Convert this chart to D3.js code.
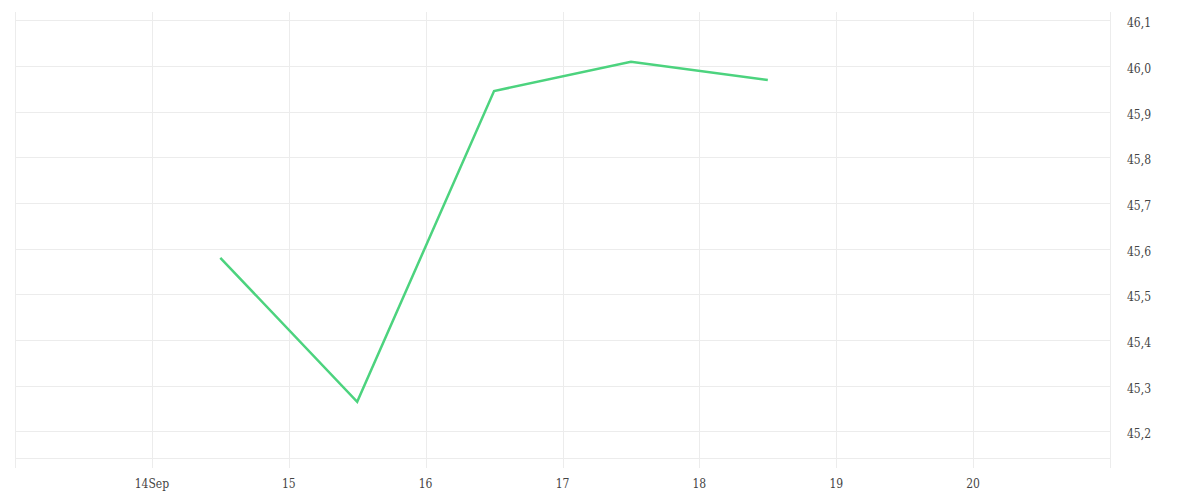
<!DOCTYPE html>
<html>
<head>
<meta charset="utf-8">
<script src="https://cdn.jsdelivr.net/npm/d3@7"></script>
<style>
  body { margin: 0; background: #fff; }
  svg text { font-family: "DejaVu Serif Condensed", "DejaVu Serif", serif; font-stretch: condensed; font-size: 12px; fill: #444; }
</style>
</head>
<body>
<svg id="chart" width="1200" height="500"></svg>
<script>
// daily closes, plotted at midday
const dates = ["2023-09-14T12:00", "2023-09-15T12:00", "2023-09-16T12:00", "2023-09-17T12:00", "2023-09-18T12:00"];
const values = [45.58, 45.265, 45.945, 46.009, 45.969];
const yTicks = [45.2, 45.3, 45.4, 45.5, 45.6, 45.7, 45.8, 45.9, 46.0, 46.1];
const xTicks = ["2023-09-14", "2023-09-15", "2023-09-16", "2023-09-17", "2023-09-18", "2023-09-19", "2023-09-20"];

(function () {
    const svg = d3.select("svg#chart");
    const left = 15, right = 1110, plotTop = 12, plotBottom = 458, tickEnd = 468;

    const parse = d3.timeParse("%Y-%m-%dT%H:%M");
    const parseDay = d3.timeParse("%Y-%m-%d");
    const data = dates.map((d, i) => ({ date: parse(d), value: values[i] }));

    const x = d3.scaleTime()
        .domain([parseDay("2023-09-13"), parseDay("2023-09-21")])
        .range([left, right]);
    const y = d3.scaleLinear()
        .domain([45.142, 46.118])
        .range([plotBottom, plotTop]);

    const grid = svg.append("g").attr("stroke", "#ececec").attr("stroke-width", 1);

    // horizontal grid
    grid.selectAll("line.h")
        .data(yTicks)
        .join("line")
        .attr("class", "h")
        .attr("x1", left).attr("x2", right)
        .attr("y1", d => Math.round(y(d)) + 0.5)
        .attr("y2", d => Math.round(y(d)) + 0.5);
    grid.append("line")
        .attr("x1", left).attr("x2", right)
        .attr("y1", plotBottom + 0.5).attr("y2", plotBottom + 0.5);

    // vertical grid + borders
    const xt = xTicks.map(parseDay);
    grid.selectAll("line.v")
        .data(xt)
        .join("line")
        .attr("class", "v")
        .attr("x1", d => Math.round(x(d)) + 0.5)
        .attr("x2", d => Math.round(x(d)) + 0.5)
        .attr("y1", plotTop).attr("y2", tickEnd);
    grid.append("line")
        .attr("x1", left + 0.5).attr("x2", left + 0.5)
        .attr("y1", plotTop).attr("y2", tickEnd);
    grid.append("line")
        .attr("x1", right + 0.5).attr("x2", right + 0.5)
        .attr("y1", plotTop).attr("y2", tickEnd);

    // x labels
    const fmtFirst = d3.timeFormat("%-d%b");
    const fmtDay = d3.timeFormat("%-d");
    svg.append("g").selectAll("text")
        .data(xt)
        .join("text")
        .attr("x", d => x(d))
        .attr("y", 488)
        .attr("text-anchor", "middle")
        .text((d, i) => i === 0 ? fmtFirst(d) : fmtDay(d));

    // y labels
    const fmtY = v => d3.format(".1f")(v).replace(".", ",");
    svg.append("g").selectAll("text")
        .data(yTicks)
        .join("text")
        .attr("x", 1127)
        .attr("y", d => y(d) + 7)
        .text(fmtY);

    // line
    const line = d3.line()
        .x(d => x(d.date))
        .y(d => y(d.value));
    svg.append("path")
        .datum(data)
        .attr("fill", "none")
        .attr("stroke", "#4cd37e")
        .attr("stroke-width", 2.5)
        .attr("d", line);
})();
</script>
</body>
</html>
